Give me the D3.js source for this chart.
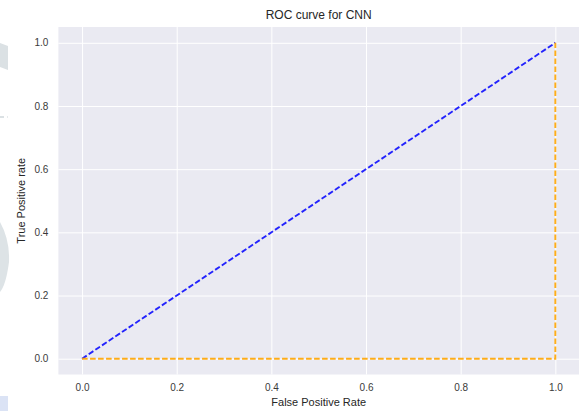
<!DOCTYPE html>
<html>
<head>
<meta charset="utf-8">
<script src="https://cdn.jsdelivr.net/npm/d3@7"></script>
<style>
  body { margin: 0; background: #fff; }
  text { font-family: "Liberation Sans", Arial, sans-serif; }
</style>
</head>
<body>
<svg id="chart" width="579" height="411"></svg>
<script>
// data
var title = "ROC curve for CNN";
var xLabel = "False Positive Rate";
var yLabel = "True Positive rate";
var tickValues = [0, 0.2, 0.4, 0.6, 0.8, 1.0];
// diagonal chance line
var chanceFpr = [0, 1];
var chanceTpr = [0, 1];
// CNN roc curve
var cnnFpr = [0, 1, 1];
var cnnTpr = [0, 0, 1];

var width = 579, height = 411;
var margin = {top: 27, right: 0, bottom: 36.5, left: 58.4};
var svg = d3.select("#chart");

// faint bits of a background image on the left edge
var bg = svg.append("g").attr("class", "bg");
bg.append("path").attr("d", "M0,43 L8,46 L8,70 L0,67 Z").attr("fill", "#dbe1e4");
bg.append("rect").attr("x", 0).attr("y", 116).attr("width", 4).attr("height", 2).attr("fill", "#dbe1e4");
bg.append("rect").attr("x", 7).attr("y", 116).attr("width", 1).attr("height", 2).attr("fill", "#e6eaec");
bg.append("path").attr("d", "M0,222 Q10,240 9,262 Q6,285 0,292 Z").attr("fill", "#dde3e6");
bg.append("rect").attr("x", 0).attr("y", 396).attr("width", 8).attr("height", 15).attr("fill", "#dbe3f5");

var x = d3.scaleLinear().domain([-0.05, 1.05]).range([margin.left, width - margin.right]);
var y = d3.scaleLinear().domain([-0.05, 1.05]).range([height - margin.bottom, margin.top]);

svg.append("rect")
  .attr("x", x.range()[0]).attr("y", y.range()[1])
  .attr("width", x.range()[1] - x.range()[0])
  .attr("height", y.range()[0] - y.range()[1])
  .attr("fill", "#eaeaf2");

var xAxis = svg.append("g")
  .attr("transform", "translate(0," + y.range()[0] + ")")
  .call(d3.axisBottom(x).tickValues(tickValues).tickFormat(d3.format(".1f"))
    .tickSize(-(y.range()[0] - y.range()[1])).tickPadding(9));
var yAxis = svg.append("g")
  .attr("transform", "translate(" + x.range()[0] + ",0)")
  .call(d3.axisLeft(y).tickValues(tickValues).tickFormat(d3.format(".1f"))
    .tickSize(-(x.range()[1] - x.range()[0])).tickPadding(10));

[xAxis, yAxis].forEach(function(a) {
  a.select(".domain").remove();
  a.selectAll(".tick line").attr("stroke", "#fff").attr("stroke-width", 1);
  a.selectAll(".tick text").attr("fill", "#3a3a3a").attr("font-size", 10)
    .attr("font-family", "Liberation Sans, Arial, sans-serif");
});

var line = d3.line()
  .x(function(d) { return x(d[0]); })
  .y(function(d) { return y(d[1]); });

svg.append("path")
  .datum(d3.zip(chanceFpr, chanceTpr))
  .attr("d", line)
  .attr("fill", "none")
  .attr("stroke", "#0000ff").attr("stroke-opacity", 0.85)
  .attr("stroke-width", 1.9)
  .attr("stroke-dasharray", "5.6,2.4");

svg.append("path")
  .datum(d3.zip(cnnFpr, cnnTpr))
  .attr("d", line)
  .attr("fill", "none")
  .attr("stroke", "#ffa500").attr("stroke-opacity", 0.9)
  .attr("stroke-width", 1.9)
  .attr("stroke-dasharray", "5.6,2.4");

svg.append("text")
  .attr("x", (x.range()[0] + x.range()[1]) / 2).attr("y", 19)
  .attr("text-anchor", "middle").attr("font-size", 12).attr("fill", "#262626")
  .text(title);

svg.append("text")
  .attr("x", (x.range()[0] + x.range()[1]) / 2).attr("y", 406)
  .attr("text-anchor", "middle").attr("font-size", 11).attr("fill", "#262626")
  .text(xLabel);

svg.append("text")
  .attr("transform", "translate(25," + (y.range()[0] + y.range()[1]) / 2 + ") rotate(-90)")
  .attr("text-anchor", "middle").attr("font-size", 11).attr("fill", "#262626")
  .text(yLabel);
</script>
</body>
</html>
